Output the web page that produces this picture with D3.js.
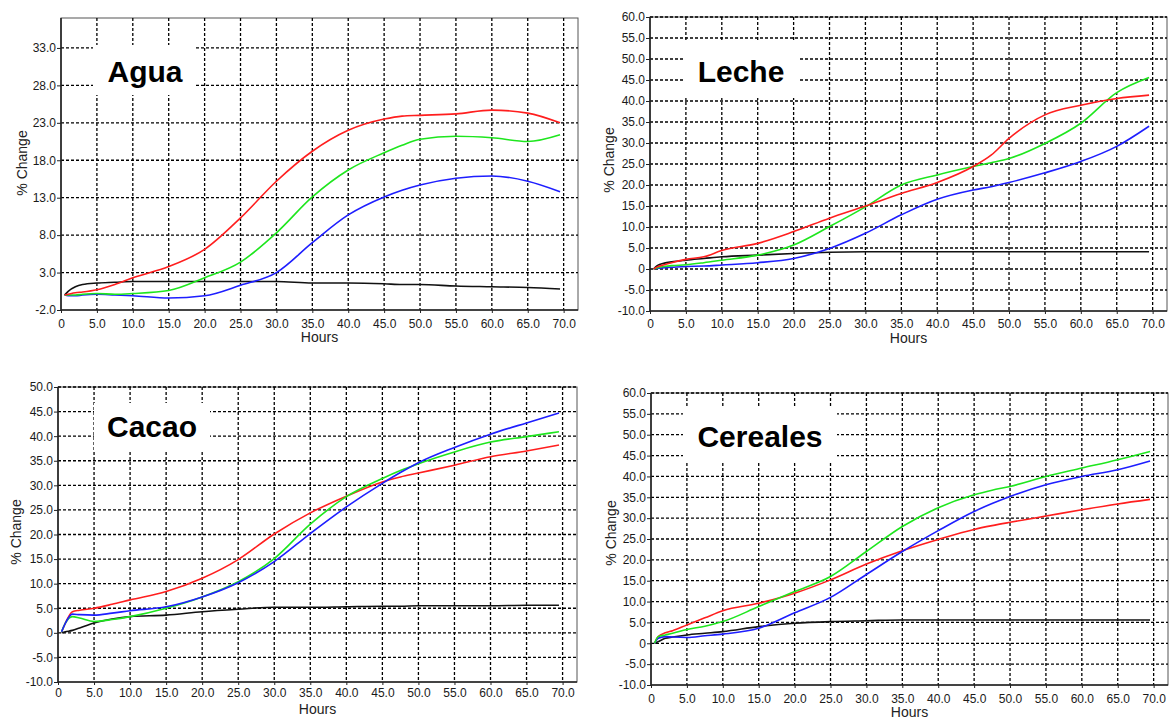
<!DOCTYPE html>
<html lang="es">
<head>
<meta charset="UTF-8" />
<title>% Change vs Hours</title>
<style>
  body { margin: 0; background: #fff; }
  svg { display: block; font-family: "Liberation Sans", Arial, sans-serif; }
</style>
</head>
<body>
<svg id="chart" width="1169" height="719"></svg>
<script src="https://d3js.org/d3.v7.min.js"></script>
<script>
// sample times (hours) shared by every series
const hours = [0.5, 1, 2, 3, 5, 7.5, 10, 15, 20, 25, 30, 35, 40, 45, 47.5, 50, 55, 60, 65, 69.5];

// Agua
const aguaRed   = [0, 0.1, 0.3, 0.4, 0.7, 1.4, 2.3, 3.8, 6.1, 10.3, 15.2, 19.2, 22.0, 23.5, 23.9, 24.0, 24.2, 24.7, 24.3, 23.0];
const aguaGreen = [0, 0.0, 0.0, 0.1, 0.2, 0.1, 0.2, 0.6, 2.3, 4.4, 8.3, 13.1, 16.7, 19.0, 20.0, 20.8, 21.2, 21.0, 20.5, 21.4];
const aguaBlue  = [0, -0.1, -0.1, 0.0, 0.1, 0.0, -0.1, -0.4, -0.1, 1.3, 3.0, 7.0, 10.7, 13.1, 14.0, 14.7, 15.6, 15.9, 15.2, 13.8];
const aguaBlack = [0, 0.5, 1.1, 1.4, 1.6, 1.7, 1.8, 1.8, 1.8, 1.8, 1.8, 1.6, 1.6, 1.5, 1.4, 1.4, 1.2, 1.1, 1.0, 0.8];

// Leche
const lecheRed   = [0, 0.5, 1.0, 1.5, 2.3, 2.9, 4.4, 6.1, 8.9, 12.1, 15.0, 18.0, 20.6, 24.4, 27.1, 31.1, 36.7, 39.0, 40.6, 41.4];
const lecheGreen = [0, 0.3, 0.6, 0.8, 1.0, 1.5, 2.1, 3.3, 5.7, 10.1, 14.8, 20.0, 22.4, 24.4, 25.3, 26.3, 29.9, 34.7, 42.0, 45.6];
const lecheBlue  = [0, 0.2, 0.3, 0.4, 0.6, 0.7, 0.95, 1.5, 2.5, 4.9, 8.5, 12.9, 16.6, 18.8, 19.6, 20.6, 22.9, 25.6, 29.2, 34.0];
const lecheBlack = [0, 0.8, 1.4, 1.7, 2.1, 2.5, 2.9, 3.3, 3.7, 4.0, 4.1, 4.1, 4.1, 4.1, 4.1, 4.1, 4.1, 4.1, 4.1, 4.1];

// Cacao
const cacaoRed   = [0.2, 1.9, 4.3, 4.6, 5.0, 5.8, 6.7, 8.4, 11.1, 14.9, 20.1, 24.4, 27.8, 30.7, 31.7, 32.5, 34.1, 35.8, 37.0, 38.2];
const cacaoGreen = [0.2, 1.9, 3.3, 3.0, 2.3, 2.7, 3.3, 5.0, 7.3, 10.4, 15.1, 22.1, 27.7, 31.4, 33.0, 34.4, 36.8, 38.8, 39.9, 40.9];
const cacaoBlue  = [0.2, 1.9, 3.8, 3.7, 3.6, 4.0, 4.5, 5.3, 7.3, 10.2, 14.5, 20.2, 25.6, 30.4, 32.6, 34.6, 37.7, 40.4, 42.7, 44.7];
const cacaoBlack = [0, 0.2, 0.5, 1.0, 2.0, 2.8, 3.3, 3.6, 4.3, 4.8, 5.2, 5.2, 5.3, 5.4, 5.4, 5.5, 5.5, 5.5, 5.6, 5.6];

// Cereales
const cerealRed   = [0, 1.6, 2.5, 3.0, 4.4, 6.1, 7.8, 9.6, 12.0, 15.2, 19.0, 22.2, 24.9, 27.3, 28.2, 29.0, 30.5, 32.0, 33.4, 34.5];
const cerealGreen = [0, 1.6, 2.0, 2.4, 3.3, 4.1, 5.2, 8.8, 12.4, 16.0, 22.0, 28.0, 32.5, 35.6, 36.7, 37.6, 40.0, 42.0, 44.0, 46.0];
const cerealBlue  = [0, 1.2, 1.6, 1.5, 1.4, 1.8, 2.2, 3.6, 7.3, 11.0, 16.5, 22.0, 27.0, 31.6, 33.5, 35.2, 38.0, 40.0, 41.6, 43.7];
const cerealBlack = [0, 0.4, 1.2, 1.5, 2.0, 2.4, 2.8, 4.0, 4.8, 5.2, 5.4, 5.6, 5.6, 5.6, 5.6, 5.6, 5.6, 5.6, 5.6, 5.6];

// axis ticks
const hourTicks = d3.range(0, 71, 5);
const aguaTicks = d3.range(-2, 34, 5);
const wideTicks = d3.range(-10, 61, 5);
const cacaoTicks = d3.range(-10, 51, 5);

const colors = { red: "#ff1e1e", green: "#1ee61e", blue: "#1e1eff", black: "#111" };

const panels = [
  { title: "Agua", box: [61, 18, 578, 310], yDomain: [-2, 37], yTicks: aguaTicks,
    series: [["black", aguaBlack], ["blue", aguaBlue], ["green", aguaGreen], ["red", aguaRed]],
    label: [93, 45, 195, 95, 145, 82], yLab: [22, 163], xDy: 18 },
  { title: "Leche", box: [650, 17, 1167, 311], yDomain: [-10, 60], yTicks: wideTicks,
    series: [["black", lecheBlack], ["blue", lecheBlue], ["green", lecheGreen], ["red", lecheRed]],
    label: [683, 42, 798, 98, 741, 82], yLab: [609, 160], xDy: 17 },
  { title: "Cacao", box: [58, 387, 577, 682], yDomain: [-10, 50], yTicks: cacaoTicks,
    series: [["black", cacaoBlack], ["red", cacaoRed], ["green", cacaoGreen], ["blue", cacaoBlue]],
    label: [94, 403, 210, 452, 152, 437], yLab: [16, 532], xDy: 15 },
  { title: "Cereales", box: [651, 393, 1168, 685], yDomain: [-10, 60], yTicks: wideTicks,
    series: [["black", cerealBlack], ["red", cerealRed], ["blue", cerealBlue], ["green", cerealGreen]],
    label: [683, 406, 837, 462, 760, 447], yLab: [611, 533], xDy: 18 }
];

const fmt = d => d === 0 ? "0" : d.toFixed(1);
const svg = d3.select("#chart");

panels.forEach(p => {
  const [x0, y0, x1, y1] = p.box;
  const x = d3.scaleLinear().domain([0, 72]).range([x0, x1]);
  const y = d3.scaleLinear().domain(p.yDomain).range([y1, y0]);
  const g = svg.append("g");

  // frame
  g.append("rect")
    .attr("x", x0).attr("y", y0)
    .attr("width", x1 - x0).attr("height", y1 - y0)
    .attr("fill", "none").attr("stroke", "#555").attr("stroke-width", 1);

  // dotted grid
  g.selectAll(".vgrid").data(hourTicks.filter(d => d > 0)).enter()
    .append("line")
    .attr("x1", d => x(d)).attr("x2", d => x(d))
    .attr("y1", y0).attr("y2", y1)
    .attr("stroke", "#000").attr("stroke-width", 1.3)
    .attr("stroke-dasharray", "3,2");
  g.selectAll(".hgrid").data(p.yTicks.filter(d => d > p.yDomain[0])).enter()
    .append("line")
    .attr("x1", x0).attr("x2", x1)
    .attr("y1", d => y(d)).attr("y2", d => y(d))
    .attr("stroke", "#000").attr("stroke-width", 1.3)
    .attr("stroke-dasharray", "3,2");

  // white box behind the title
  const [bx0, by0, bx1, by1, tx, ty] = p.label;
  g.append("rect")
    .attr("x", bx0).attr("y", by0)
    .attr("width", bx1 - bx0).attr("height", by1 - by0)
    .attr("fill", "#fff");
  g.append("text")
    .attr("x", tx).attr("y", ty)
    .attr("text-anchor", "middle")
    .attr("font-size", 30).attr("font-weight", "bold")
    .attr("fill", "#000")
    .text(p.title);

  // series
  const line = d3.line()
    .x((d, i) => x(hours[i]))
    .y(d => y(d))
    .curve(d3.curveMonotoneX);
  p.series.forEach(([c, vals]) => {
    g.append("path")
      .attr("d", line(vals))
      .attr("fill", "none")
      .attr("stroke", colors[c])
      .attr("stroke-width", 1.6);
  });

  // axes
  const yAxis = g.append("g")
    .attr("transform", `translate(${x0},0)`)
    .call(d3.axisLeft(y).tickValues(p.yTicks).tickFormat(fmt).tickSize(4).tickPadding(1));
  const xAxis = g.append("g")
    .attr("transform", `translate(0,${y1})`)
    .call(d3.axisBottom(x).tickValues(hourTicks).tickFormat(fmt).tickSize(3).tickPadding(2));
  xAxis.selectAll("text").attr("dy", null).attr("y", p.xDy);
  [yAxis, xAxis].forEach(a => {
    a.select(".domain").attr("stroke", "#222").attr("stroke-width", 1.6);
    a.selectAll(".tick line").attr("stroke", "#222");
    a.selectAll("text").attr("font-size", 12).attr("fill", "#1a1a1a")
      .attr("font-family", "'Liberation Sans', Arial, sans-serif");
  });
  // axis lines span the full frame
  xAxis.select(".domain").attr("d", `M${x0},0H${x1}`);
  yAxis.select(".domain").attr("d", `M0,${y1}V${y0}`);

  // axis titles
  g.append("text")
    .attr("x", (x0 + x1) / 2).attr("y", y1 + 32)
    .attr("text-anchor", "middle")
    .attr("font-size", 14).attr("fill", "#222")
    .text("Hours");
  g.append("text")
    .attr("transform", `translate(${p.yLab[0]},${p.yLab[1]}) rotate(-90)`)
    .attr("dy", "0.35em")
    .attr("text-anchor", "middle")
    .attr("font-size", 14).attr("fill", "#222")
    .text("% Change");
});
</script>
</body>
</html>
